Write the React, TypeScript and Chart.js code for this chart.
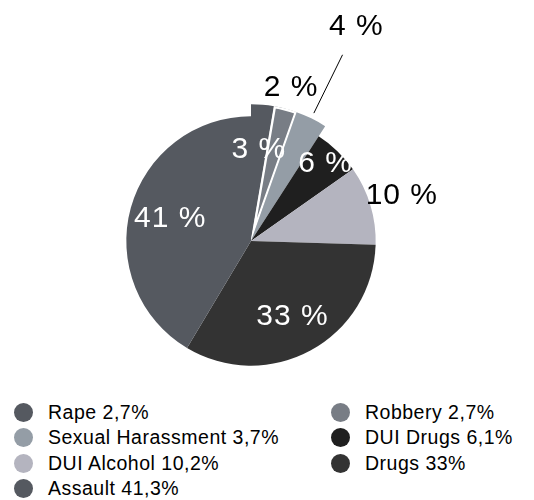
import React, { useEffect, useRef } from "react";
import { Chart, registerables } from "chart.js";

Chart.register(...registerables);

const categories = ["Rape", "Robbery", "Sexual Harassment", "DUI Drugs", "DUI Alcohol", "Drugs", "Assault"];
const values = [2.7, 2.7, 3.7, 6.1, 10.2, 33, 41.3];
const legendValueText = ["2,7%", "2,7%", "3,7%", "6,1%", "10,2%", "33%", "41,3%"];
const sliceLabels = ["3 %", "2 %", "4 %", "6 %", "10 %", "33 %", "41 %"];
const colors = ["#555960", "#787d85", "#949da6", "#1f1f1f", "#b4b4bf", "#333333", "#555960"];

// label placement (style): radius factor, text colour, extra outer radius, leader line
const labelRadius = [0.73, 1.27, 1.91, 0.86, 1.26, 0.69, 0.67];
const labelColor = ["#fff", "#000", "#000", "#fff", "#000", "#fff", "#fff"];
const extraRadius = [12, 12, 12, 0, 0, 0, 0];
const leader: (null | [number, number])[] = [null, null, [1.14, 1.66], null, null, null, null];

const FONT = '"Liberation Sans", Arial, Helvetica, sans-serif';

const piePlugin = {
  id: "pieExtras",
  afterDatasetsUpdate(chart: any) {
    const meta = chart.getDatasetMeta(0);
    const base = meta.controller.outerRadius;
    meta.data.forEach((el: any, i: number) => {
      el.outerRadius = base + extraRadius[i];
    });
  },
  afterDatasetsDraw(chart: any) {
    const meta = chart.getDatasetMeta(0);
    const base = meta.controller.outerRadius;
    const ctx = chart.ctx;
    ctx.save();
    ctx.font = `30px ${FONT}`;
    try { (ctx as any).letterSpacing = "1px"; } catch (e) {}
    ctx.textAlign = "center";
    ctx.textBaseline = "middle";
    meta.data.forEach((el: any, i: number) => {
      const a = (el.startAngle + el.endAngle) / 2;
      const cx = el.x, cy = el.y;
      const lf = leader[i];
      if (lf) {
        ctx.beginPath();
        ctx.strokeStyle = "#000";
        ctx.lineWidth = 1;
        ctx.moveTo(cx + Math.cos(a) * base * lf[0], cy + Math.sin(a) * base * lf[0]);
        ctx.lineTo(cx + Math.cos(a) * base * lf[1], cy + Math.sin(a) * base * lf[1]);
        ctx.stroke();
      }
      const r = base * labelRadius[i];
      ctx.fillStyle = labelColor[i];
      ctx.fillText(sliceLabels[i], cx + Math.cos(a) * r, cy + Math.sin(a) * r);
    });
    ctx.restore();
  },
};

export default function App() {
  const ref = useRef<HTMLCanvasElement>(null);
  useEffect(() => {
    if (!ref.current) return;
    const chart = new Chart(ref.current, {
      type: "pie",
      data: {
        labels: categories,
        datasets: [
          {
            data: values,
            backgroundColor: colors,
            borderColor: "#ffffff",
            borderWidth: [0, 2, 0, 0, 0, 0, 0],
            borderAlign: "inner",
            offset: 0,
            hoverOffset: 0,
          } as any,
        ],
      },
      options: {
        animation: false,
        responsive: false,
        events: [],
        layout: { padding: { left: 126, right: 158, top: 116, bottom: 14 } },
        plugins: { legend: { display: false }, tooltip: { enabled: false } },
      },
      plugins: [piePlugin],
    });
    return () => chart.destroy();
  }, []);

  const legendPos = (i: number) => ({
    left: i % 2 === 0 ? 14 : 331,
    top: 402 + Math.floor(i / 2) * 25.5,
  });

  return (
    <div style={{ position: "absolute", left: 0, top: 0, width: 534, height: 500, background: "#fff", fontFamily: FONT }}>
      <canvas ref={ref} width={534} height={380} style={{ position: "absolute", left: 0, top: 0 }} />
      {categories.map((c, i) => {
        const p = legendPos(i);
        return (
          <div key={c} style={{ position: "absolute", left: p.left, top: p.top, height: 20, display: "flex", alignItems: "center", whiteSpace: "nowrap" }}>
            <span style={{ width: 19, height: 19, borderRadius: "50%", background: colors[i], display: "inline-block", flex: "none" }} />
            <span style={{ marginLeft: 15, fontSize: 19.5, letterSpacing: 0.5, color: "#000" }}>{c + " " + legendValueText[i]}</span>
          </div>
        );
      })}
    </div>
  );
}
